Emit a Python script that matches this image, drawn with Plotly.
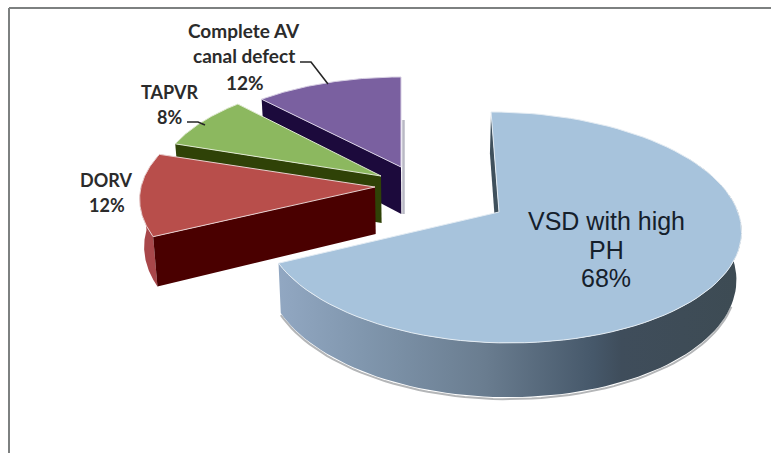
import math
import plotly.graph_objects as go

# --- data ---
categories = ["VSD with high PH", "DORV", "TAPVR", "Complete AV canal defect"]
shares = [68, 12, 8, 12]
label_lines = [["VSD with high", "PH", "68%"], ["DORV", "12%"], ["TAPVR", "8%"],
               ["Complete AV", "canal defect", "12%"]]

# --- pie geometry and styling (pixel-scale axes) ---
W, H = 771, 453
CENTER = (420, 189)
RX_RIGHT, RX_LEFT, RY, PERSP = 239, 234, 113.4, 0.134
START = 0.0
DEPTH = 47
VANISH_X, VANISH_K = 420, 0.016
EXPLODE = [(79, 23), (-45, -2), (-39, -13), (-19, -22)]
SCALE_X = [1.0, 1.0, 0.955, 0.955]
SCALE_Y = [1.0, 0.97, 0.955, 0.90]
SHEAR = [9, 6, 6, 0]
TOP = ["#a7c3dc", "#b84e4b", "#8cb85f", "#7a60a0"]
WALL = ["#3f505c", "#4a0000", "#2f4207", "#1c0a3c"]
RIM = ["#3f505c", "#a8474a", "#2f4207", "#1c0a3c"]
EDGE = ["#e4ecf3", "#e8cfcf", "#dfe9d0", "#d8d0e4"]

LABEL_POS = [
    [(606, 221, 25), (606, 250, 25), (606, 278, 25)],
    [(106, 180, 18), (107, 205, 18)],
    [(169, 92, 18), (169, 117, 18)],
    [(244, 30, 19), (244, 55, 19), (245, 82, 19)],
]
LEADER_X = [[300, 311, 328], [187, 198, 205]]
LEADER_Y = [[62, 62, 84], [122, 122, 125]]

total = sum(shares)
edges = [START]
for v in shares:
    edges.append(edges[-1] + 360 * v / total)
apexes = [(CENTER[0] + dx, CENTER[1] + dy) for dx, dy in EXPLODE]


def rim_point(i, deg):
    t = math.radians(deg)
    sn, cs = math.sin(t), math.cos(t)
    p = 1 / (1 + PERSP * cs)
    a = apexes[i]
    rx = RX_RIGHT if sn >= 0 else RX_LEFT
    return a[0] + SCALE_X[i] * (rx * sn - SHEAR[i] * cs) * p, a[1] - SCALE_Y[i] * RY * cs * p, p


def drop(x, y, d):
    return x + (VANISH_X - x) * VANISH_K, y + d


def arc(i, a0, a1, n=90):
    return [rim_point(i, a0 + (a1 - a0) * k / n) for k in range(n + 1)]


fig = go.Figure()


def poly(pts, color, line=None, width=0):
    fig.add_trace(go.Scatter(
        x=[p[0] for p in pts] + [pts[0][0]], y=[p[1] for p in pts] + [pts[0][1]],
        mode="lines", fill="toself", fillcolor=color,
        line=dict(color=line or color, width=width if line else 0),
        hoverinfo="skip"))


def polyline(pts, color, width):
    fig.add_trace(go.Scatter(x=[p[0] for p in pts], y=[p[1] for p in pts], mode="lines",
                             line=dict(color=color, width=width), hoverinfo="skip"))


def flat_wall(i, deg):
    """Cut face between the apex and the rim at angle deg."""
    a = apexes[i]
    x, y, p = rim_point(i, deg)
    lx, ly = drop(x, y, DEPTH * p)
    ax, ay = drop(a[0], a[1], DEPTH)
    return [(x, y), a, (ax, ay), (lx, ly)]


def rim_wall(i, a0, a1):
    top = arc(i, a0, a1)
    low = [drop(x, y, DEPTH * p) for x, y, p in top]
    return [(x, y) for x, y, _ in top] + low[::-1], low


# back-to-front: purple, green, red, blue
order = [3, 2, 1, 0]
for i in order:
    if i == 3:
        a = apexes[i]
        polyline([(a[0] + 2.5, a[1] - 47), (a[0] + 2.5, a[1] + 47)], "#b9b9c4", 2.5)
        poly(flat_wall(i, edges[i]), WALL[i])
    if i == 2:
        poly(flat_wall(i, edges[i]), WALL[i])
    if i == 1:
        wall, low = rim_wall(i, edges[i], 272)
        poly(wall, RIM[i])
        poly(flat_wall(i, edges[i]), WALL[i])
    if i == 0:
        wall, low = rim_wall(i, 60, edges[1])
        polyline([(x, y + 2) for x, y in low[25:]], "#b4b6b8", 2)
        poly(flat_wall(i, edges[0]), WALL[i])
        xs = [p[0] for p in wall] + [wall[0][0]]
        ys = [p[1] for p in wall] + [wall[0][1]]
        fig.add_trace(go.Scatter(
            x=xs, y=ys, mode="lines", fill="toself", line=dict(width=0), hoverinfo="skip",
            fillgradient=dict(type="horizontal", start=270, stop=745, colorscale=[
                [0.0, "#93a9c4"], [0.2, "#8096ad"], [0.45, "#6a7d90"],
                [0.68, "#46586a"], [0.74, "#3f4d5b"], [1.0, "#3d4b53"]])))
    top = [(x, y) for x, y, _ in arc(i, edges[i], edges[i + 1])]
    poly([apexes[i]] + top, TOP[i], line=EDGE[i], width=1)

for xs, ys in zip(LEADER_X, LEADER_Y):
    fig.add_trace(go.Scatter(x=xs, y=ys, mode="lines", line=dict(color="#262626", width=1.6),
                             hoverinfo="skip"))

annotations = []
for i, lines in enumerate(label_lines):
    for text, (x, y, size) in zip(lines, LABEL_POS[i]):
        fam = "Liberation Sans" if i == 0 else "Lato"
        txt = text if i == 0 else f"<b>{text}</b>"
        color = "#15202b" if i == 0 else "#2b2b2b"
        annotations.append(dict(x=x, y=y, text=txt, showarrow=False, xanchor="center",
                                yanchor="middle", font=dict(family=fam, size=size, color=color)))

fig.update_layout(
    width=W, height=H, margin=dict(l=0, r=0, t=0, b=0), showlegend=False,
    paper_bgcolor="white", plot_bgcolor="white", hovermode=False,
    xaxis=dict(range=[0, W], visible=False, fixedrange=True),
    yaxis=dict(range=[H, 0], visible=False, fixedrange=True),
    annotations=annotations,
    shapes=[
        dict(type="line", x0=9, x1=9, y0=8, y1=H, line=dict(color="#7d8080", width=2)),
        dict(type="line", x0=9, x1=W, y0=8, y1=8, line=dict(color="#7d8080", width=2)),
    ],
)
fig.write_html("out.html", config=dict(displayModeBar=False),
               post_script="document.body.style.margin='0';document.documentElement.style.overflow='hidden';")
